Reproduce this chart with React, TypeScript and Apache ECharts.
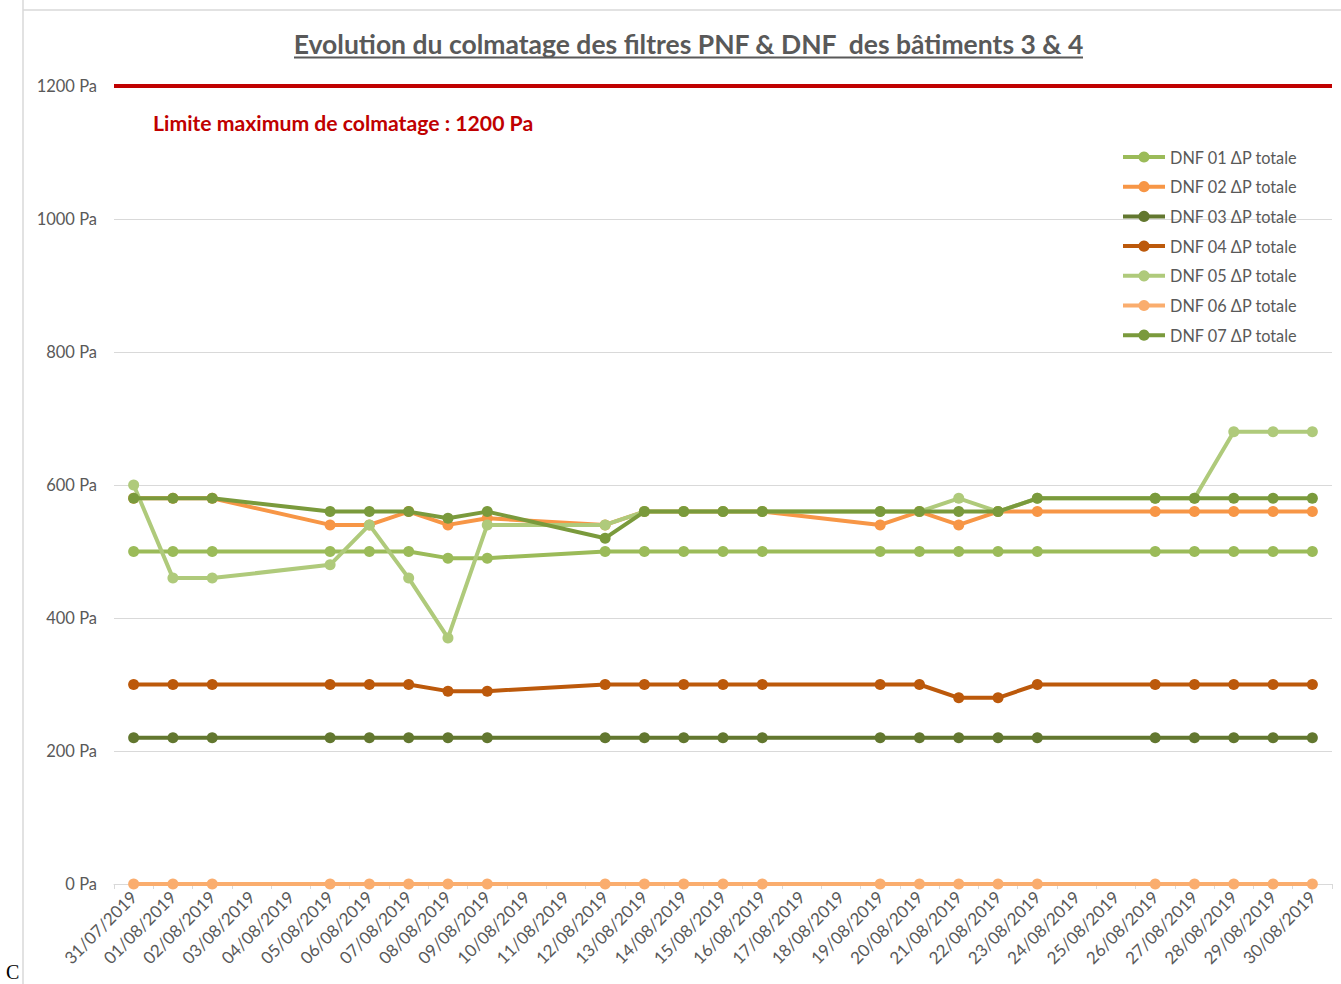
import React, { useEffect, useRef } from "react";
import * as echarts from "echarts";

const dates = [
  "31/07/2019", "01/08/2019", "02/08/2019", "03/08/2019", "04/08/2019", "05/08/2019",
  "06/08/2019", "07/08/2019", "08/08/2019", "09/08/2019", "10/08/2019", "11/08/2019",
  "12/08/2019", "13/08/2019", "14/08/2019", "15/08/2019", "16/08/2019", "17/08/2019",
  "18/08/2019", "19/08/2019", "20/08/2019", "21/08/2019", "22/08/2019", "23/08/2019",
  "24/08/2019", "25/08/2019", "26/08/2019", "27/08/2019", "28/08/2019", "29/08/2019",
  "30/08/2019",
];

const n = null;
const dnf01 = [500, 500, 500, n, n, 500, 500, 500, 490, 490, n, n, 500, 500, 500, 500, 500, n, n, 500, 500, 500, 500, 500, n, n, 500, 500, 500, 500, 500];
const dnf02 = [580, 580, 580, n, n, 540, 540, 560, 540, 550, n, n, 540, 560, 560, 560, 560, n, n, 540, 560, 540, 560, 560, n, n, 560, 560, 560, 560, 560];
const dnf03 = [220, 220, 220, n, n, 220, 220, 220, 220, 220, n, n, 220, 220, 220, 220, 220, n, n, 220, 220, 220, 220, 220, n, n, 220, 220, 220, 220, 220];
const dnf04 = [300, 300, 300, n, n, 300, 300, 300, 290, 290, n, n, 300, 300, 300, 300, 300, n, n, 300, 300, 280, 280, 300, n, n, 300, 300, 300, 300, 300];
const dnf05 = [600, 460, 460, n, n, 480, 540, 460, 370, 540, n, n, 540, 560, 560, 560, 560, n, n, 560, 560, 580, 560, 580, n, n, 580, 580, 680, 680, 680];
const dnf06 = [0, 0, 0, n, n, 0, 0, 0, 0, 0, n, n, 0, 0, 0, 0, 0, n, n, 0, 0, 0, 0, 0, n, n, 0, 0, 0, 0, 0];
const dnf07 = [580, 580, 580, n, n, 560, 560, 560, 550, 560, n, n, 520, 560, 560, 560, 560, n, n, 560, 560, 560, 560, 580, n, n, 580, 580, 580, 580, 580];

const seriesNames = [
  "DNF 01 ΔP totale", "DNF 02 ΔP totale", "DNF 03 ΔP totale", "DNF 04 ΔP totale",
  "DNF 05 ΔP totale", "DNF 06 ΔP totale", "DNF 07 ΔP totale",
];
const seriesData = [dnf01, dnf02, dnf03, dnf04, dnf05, dnf06, dnf07];
const seriesColors = ["#9BBB59", "#F79646", "#62772F", "#BC590B", "#AFCA7B", "#FAAD6E", "#7A9A3C"];

const limitValue = 1200;
const yTicks = { min: 0, max: 1200, interval: 200 };

const titleText = "Evolution du colmatage des filtres PNF & DNF  des bâtiments 3 & 4";
const limitText = "Limite maximum de colmatage : 1200 Pa";

const FONT = "Lato";
const GREY = "#595959";

export default function App() {
  const ref = useRef<HTMLDivElement>(null);

  useEffect(() => {
    if (!ref.current) return;
    const chart = echarts.init(ref.current, null, { renderer: "svg" });

    const series: any[] = seriesNames.map((name, i) => ({
      name,
      type: "line",
      data: seriesData[i],
      connectNulls: true,
      symbol: "circle",
      symbolSize: 11,
      showSymbol: true,
      lineStyle: { width: 4, color: seriesColors[i] },
      itemStyle: { color: seriesColors[i] },
      z: 3 + i,
      ...(i === 0
        ? {
            markLine: {
              silent: true,
              symbol: "none",
              label: { show: false },
              lineStyle: { color: "#C00000", width: 4, type: "solid" },
              data: [{ yAxis: limitValue }],
              z: 20,
            },
          }
        : {}),
    }));

    chart.setOption({
      animation: false,
      backgroundColor: "#ffffff",
      textStyle: { fontFamily: FONT },
      grid: { left: 114, right: 9, top: 86, bottom: 100, containLabel: false },
      legend: {
        orient: "vertical",
        left: 1121,
        top: 147,
        padding: 0,
        itemWidth: 42,
        itemHeight: 14,
        itemGap: 9.7,
        data: seriesNames,
        lineStyle: { width: 4 },
        textStyle: { fontFamily: FONT, fontSize: 16.3, color: GREY, lineHeight: 20 },
      },
      xAxis: {
        type: "category",
        data: dates,
        boundaryGap: true,
        axisLine: { show: true, lineStyle: { color: "#D9D9D9", width: 1 } },
        axisTick: { show: true, length: 5, lineStyle: { color: "#D9D9D9" } },
        axisLabel: {
          interval: 0,
          rotate: 45,
          fontSize: 17,
          color: GREY,
          fontFamily: FONT,
          margin: 10,
        },
      },
      yAxis: {
        type: "value",
        min: yTicks.min,
        max: yTicks.max,
        interval: yTicks.interval,
        axisLine: { show: false },
        axisTick: { show: false },
        splitLine: { lineStyle: { color: "#D9D9D9", width: 1 } },
        axisLabel: {
          formatter: (v: number) => `${v} Pa`,
          fontSize: 16.5,
          color: GREY,
          fontFamily: FONT,
          margin: 17,
        },
      },
      graphic: [
        { type: "line", shape: { x1: 23, y1: 0, x2: 23, y2: 984 }, style: { stroke: "#D9D9D9", lineWidth: 1.5 }, silent: true },
        { type: "line", shape: { x1: 23, y1: 10, x2: 1341, y2: 10 }, style: { stroke: "#D9D9D9", lineWidth: 1.5 }, silent: true },
        {
          type: "text",
          x: 688.5,
          y: 44,
          style: {
            text: titleText,
            fontFamily: FONT,
            fontSize: 26.5,
            fontWeight: "bold",
            fill: GREY,
            textAlign: "center",
            textVerticalAlign: "middle",
          },
          silent: true,
        },
        { type: "line", shape: { x1: 294, y1: 57.5, x2: 1083, y2: 57.5 }, style: { stroke: GREY, lineWidth: 2 }, silent: true },
        {
          type: "text",
          x: 153,
          y: 123,
          style: {
            text: limitText,
            fontFamily: FONT,
            fontSize: 21.2,
            fontWeight: "bold",
            fill: "#C00000",
            textAlign: "left",
            textVerticalAlign: "middle",
          },
          silent: true,
        },
        {
          type: "text",
          x: 6,
          y: 962,
          style: { text: "C", fontFamily: "Liberation Serif", fontSize: 20, fill: "#000000" },
          silent: true,
        },
      ],
      series,
    });

    return () => chart.dispose();
  }, []);

  return (
    <div
      ref={ref}
      style={{ position: "absolute", left: 0, top: 0, width: 1341, height: 984, background: "#fff" }}
    />
  );
}
